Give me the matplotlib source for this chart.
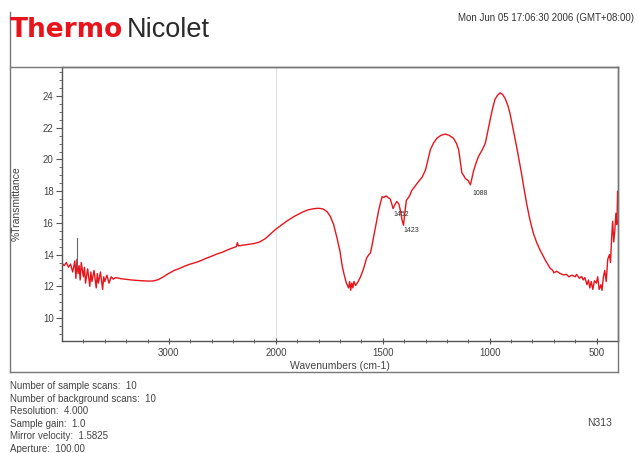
import numpy as np
import matplotlib
matplotlib.use("Agg")
import matplotlib.pyplot as plt
from matplotlib.lines import Line2D
from matplotlib.ticker import FixedLocator, NullFormatter

# ---------------- data ----------------
wavenumbers = [
    4000, 3980, 3960, 3940, 3920, 3900, 3880, 3870, 3860, 3850, 3840, 3830, 3820,
    3800, 3790, 3780, 3760, 3740, 3730, 3720, 3700, 3680, 3670, 3660, 3640, 3620,
    3610, 3600, 3580, 3560, 3540, 3520, 3500, 3450, 3400, 3350, 3300, 3250, 3200,
    3150, 3100, 3050, 3000, 2950, 2900, 2850, 2800, 2750, 2700, 2650, 2600, 2550,
    2500, 2450, 2400, 2370, 2360, 2350, 2300, 2250, 2200, 2150, 2100, 2050, 2000,
    1975, 1950, 1915, 1880, 1850, 1820, 1800, 1780, 1760, 1745, 1730, 1715, 1700,
    1690, 1680, 1670, 1660, 1655, 1650, 1645, 1640, 1635, 1627, 1615, 1604, 1590,
    1575, 1565, 1558, 1550, 1543, 1530, 1519, 1510, 1503, 1495, 1485, 1475, 1465,
    1458, 1452, 1445, 1435, 1425, 1418, 1410, 1403, 1397, 1390, 1375, 1364, 1350,
    1333, 1315, 1300, 1290, 1278, 1262, 1246, 1228, 1208, 1190, 1169, 1155, 1145,
    1138, 1130, 1120, 1114, 1100, 1090, 1085, 1075, 1063, 1052, 1035, 1021, 1010,
    998, 985, 975, 963, 951, 940, 928, 915, 905, 890, 874, 862, 851, 840, 827, 812,
    796, 780, 765, 740, 718, 705, 700, 687, 670, 655, 641, 630, 615, 600, 594, 580,
    570, 563, 555, 545, 538, 532, 525, 518, 510, 501, 495, 488, 480, 475, 468, 462,
    455, 448, 440, 435, 430, 425, 420, 415, 410, 405, 402, 400,
]
transmittance = [
    13.45, 13.3, 13.5, 13.2, 13.4, 12.9, 13.6, 12.5, 13.7, 12.8, 13.3, 12.4, 13.5,
    12.6, 13.2, 12.2, 13.1, 12.0, 12.9, 12.3, 13.0, 11.9, 12.8, 12.2, 12.9, 11.8,
    12.6, 12.3, 12.7, 12.2, 12.6, 12.45, 12.55, 12.48, 12.44, 12.4, 12.37, 12.35, 12.33,
    12.33, 12.42, 12.6, 12.82, 13.0, 13.13, 13.28, 13.4, 13.5, 13.62, 13.77, 13.9, 14.04,
    14.15, 14.3, 14.43, 14.5, 14.75, 14.55, 14.6, 14.65, 14.7, 14.8, 15.0, 15.3, 15.6,
    15.85, 16.1, 16.4, 16.65, 16.82, 16.9, 16.92, 16.88, 16.7, 16.4, 15.9, 15.1, 14.2,
    13.3, 12.7, 12.2, 11.9, 12.3, 11.75, 12.2, 11.9, 12.3, 12.05, 12.3, 12.6, 13.1,
    13.8, 14.0, 14.1, 14.6, 15.1, 16.0, 16.8, 17.3, 17.65, 17.6, 17.7, 17.6, 17.5,
    17.2, 16.9, 17.1, 17.35, 17.2, 16.8, 16.2, 15.85, 16.6, 17.4, 17.7, 18.05, 18.3,
    18.6, 18.9, 19.35, 19.9, 20.6, 21.05, 21.35, 21.52, 21.6, 21.52, 21.33, 21.0, 20.6,
    19.9, 19.15, 18.95, 18.8, 18.65, 18.4, 18.7, 19.3, 19.8, 20.2, 20.6, 21.0, 21.7,
    22.5, 23.3, 23.8, 24.05, 24.2, 24.1, 23.85, 23.4, 22.9, 21.9, 20.8, 19.9, 19.1, 18.2, 17.2, 16.2,
    15.35, 14.75, 14.3, 13.65, 13.15, 13.0, 12.85, 12.95, 12.8, 12.72, 12.75, 12.6, 12.7, 12.6, 12.75, 12.5,
    12.62, 12.4, 12.55, 12.1, 12.4, 11.9, 12.3, 11.8, 12.35, 12.2, 12.6, 11.8, 12.1, 11.75, 12.6, 13.0,
    12.3, 13.7, 14.0, 13.5, 15.0, 16.1, 14.8, 15.5, 16.6, 15.9, 18.0, 17.5,
]
peak_labels = ["1452", "1423", "1088"]
peak_label_x = [1450, 1405, 1081]
peak_label_y = [16.5, 15.55, 17.88]
marker_wn = 3862
marker_top = 15.05

x_major = [3000, 2000, 1500, 1000, 500]
x_minor = list(range(3800, 2000, -200)) + list(range(1900, 400, -100))
y_major = [10, 12, 14, 16, 18, 20, 22, 24]

info_lines = [
    "Number of sample scans:  10",
    "Number of background scans:  10",
    "Resolution:  4.000",
    "Sample gain:  1.0",
    "Mirror velocity:  1.5825",
    "Aperture:  100.00",
]
date_text = "Mon Jun 05 17:06:30 2006 (GMT+08:00)"

# ---------------- figure ----------------
W, H = 638, 453
fig = plt.figure(figsize=(W / 100, H / 100), dpi=100)
FONT = ["Liberation Sans", "DejaVu Sans"]
GRAY = "#555555"


def fx(px):
    return px / W


def fy(py):
    return 1 - py / H


ax = fig.add_axes([fx(62), fy(341), fx(618) - fx(62), fy(67) - fy(341)])


def fwd(x):
    x = np.asarray(x, dtype=float)
    return np.where(x > 2000, 2000 + (x - 2000) / 2.0, x)


def inv(t):
    t = np.asarray(t, dtype=float)
    return np.where(t > 2000, 2000 + (t - 2000) * 2.0, t)


ax.set_xscale("function", functions=(fwd, inv))
ax.set_xlim(4000, 400)
ax.set_ylim(8.55, 25.83)

ax.axvline(2000, color="#e4e4e4", lw=0.8, zorder=0)
ax.plot(wavenumbers, transmittance, color="#e8141c", lw=1.0)

# peak marker line
ax.plot([marker_wn, marker_wn], [13.2, marker_top], color="#666666", lw=0.8)

for lab, lx, ly in zip(peak_labels, peak_label_x, peak_label_y):
    ax.text(lx, ly, lab, fontsize=5, family=FONT, color="#333333",
            ha="left", va="center")

ax.xaxis.set_major_locator(FixedLocator(x_major))
ax.xaxis.set_minor_locator(FixedLocator(x_minor))
ax.xaxis.set_minor_formatter(NullFormatter())
ax.set_xticklabels([str(v) for v in x_major])
ax.yaxis.set_major_locator(FixedLocator(y_major))
ax.yaxis.set_minor_locator(FixedLocator(list(np.arange(9.0, 25.9, 0.5))))
ax.yaxis.set_minor_formatter(NullFormatter())

ax.tick_params(axis="x", which="major", direction="inout", length=4, width=0.8,
               colors=GRAY, labelsize=7, pad=3)
ax.tick_params(axis="x", which="minor", direction="inout", length=3, width=0.6,
               colors=GRAY)
ax.tick_params(axis="y", which="major", direction="out", length=4, width=0.8,
               colors=GRAY, labelsize=7, pad=2)
ax.tick_params(axis="y", which="minor", direction="out", length=2.5, width=0.6,
               colors=GRAY)
for lab in ax.get_xticklabels() + ax.get_yticklabels():
    lab.set_family(FONT)
    lab.set_color("#444444")

for s in ax.spines.values():
    s.set_color(GRAY)
    s.set_linewidth(1.0)

ax.set_xlabel("Wavenumbers (cm-1)", fontsize=7.5, family=FONT, color="#444444",
              labelpad=2)
fig.text(fx(17), fy(204), "%Transmittance", rotation=90, fontsize=7.5,
         family=FONT, color="#444444", ha="center", va="center")

# outer frame
frame_kw = dict(color="#777777", lw=1.0, transform=fig.transFigure)
fig.add_artist(Line2D([fx(10), fx(10)], [fy(12), fy(372)], **frame_kw))
fig.add_artist(Line2D([fx(10), fx(618)], [fy(67), fy(67)], **frame_kw))
fig.add_artist(Line2D([fx(10), fx(618)], [fy(372), fy(372)], **frame_kw))
fig.add_artist(Line2D([fx(618), fx(618)], [fy(67), fy(372)], **frame_kw))

# header
fig.text(fx(10), fy(37), "Thermo", fontsize=19, fontweight="bold",
         family="DejaVu Sans", color="#e8141c", ha="left", va="baseline")
fig.text(fx(127), fy(37), "Nicolet", fontsize=19.5, family=FONT,
         color="#2a2a2a", ha="left", va="baseline")
fig.text(fx(458), fy(18), date_text, fontsize=7, family=FONT,
         color="#333333", ha="left", va="center")

# footer info
for i, line in enumerate(info_lines):
    fig.text(fx(10), fy(386 + i * 12.6), line, fontsize=7, family=FONT,
             color="#444444", ha="left", va="center")
fig.text(fx(587), fy(423), "N313", fontsize=7.5, family=FONT,
         color="#444444", ha="left", va="center")

fig.savefig("out.png", dpi=100)
